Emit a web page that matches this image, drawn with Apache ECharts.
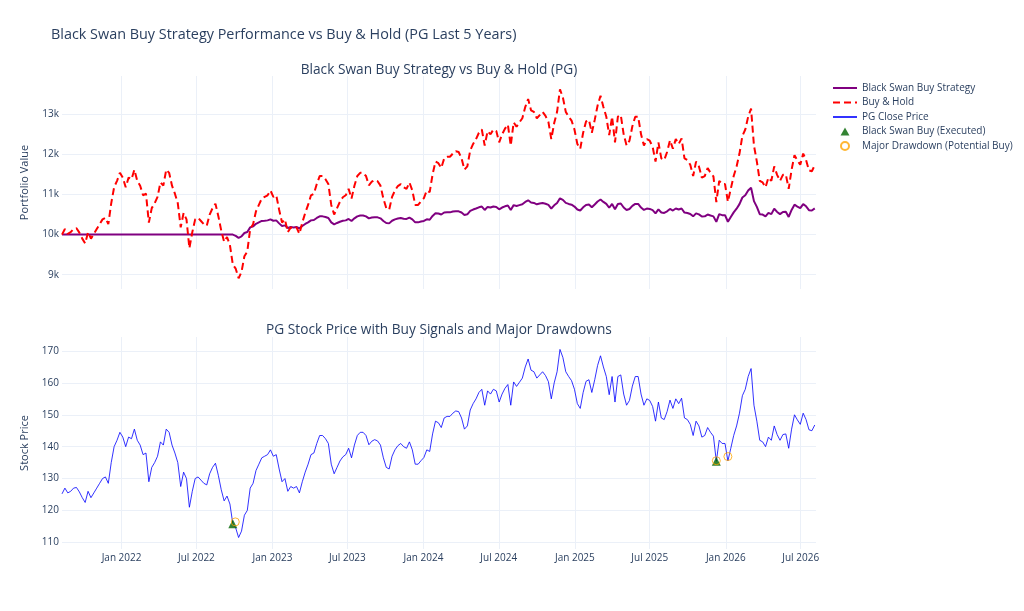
<!DOCTYPE html>
<html>
<head>
<meta charset="utf-8">
<script src="https://cdn.jsdelivr.net/npm/echarts@6/dist/echarts.min.js"></script>
<style>
  html, body { margin: 0; padding: 0; background: #ffffff; }
  #chart { width: 1024px; height: 611px; }
</style>
</head>
<body>
<div id="chart"></div>
<script>
// weekly closes, first sample on startDate
const startDate = "2021-08-10";
const endDate = "2026-08-07";

const closePrice = [
  125.2, 127, 125.5, 126, 127, 127.2, 125.8, 124, 122.5, 126,
  124, 125.5, 127, 128.5, 130, 130.5, 128.5, 135, 140, 142,
  144.5, 143, 140, 143, 142.5, 145.5, 142, 140.5, 137.5, 138,
  129, 133.5, 135, 137, 141.5, 140.5, 145.5, 144.5, 140.5, 138,
  135, 127.5, 132, 130, 121, 126, 130, 130.5, 129.5, 128.5,
  128, 131.5, 133.5, 134.8, 131, 126.5, 123, 124.5, 122, 115.8,
  114.5, 111.5, 113.5, 118.5, 120, 127, 128.5, 132.5, 134.5, 136.5,
  137, 137.5, 139, 137, 137.5, 133, 129, 130, 126, 127.5,
  127, 127.5, 125.5, 129, 132, 134.5, 137.5, 138, 141, 143.5,
  143.5, 142.5, 141, 134.5, 131.5, 133.5, 135.5, 136.8, 137.5, 139.5,
  136.5, 140.5, 143.5, 144.5, 144.5, 143.5, 140.6, 141.7, 142.2, 141.8,
  140.5, 136.5, 133.5, 133, 137, 139, 140.3, 141, 140, 139.5,
  141.5, 139, 134.5, 134.5, 135.6, 136.6, 139, 138.5, 144, 148,
  147.5, 146, 149, 149.5, 149.5, 150.5, 151.2, 151, 149, 145.5,
  146.5, 151.5, 153.5, 155, 157, 158, 153, 157.5, 156.5, 158,
  157.5, 154, 156.5, 158.3, 159.5, 153, 160.3, 158.9, 160.2, 161.5,
  165, 167.5, 164, 163.5, 161.5, 162.5, 163.5, 162.3, 160.4, 155,
  160, 163.5, 170.5, 168, 163.5, 162, 160.7, 158, 153.5, 152,
  157, 160.5, 161, 157, 161, 165.5, 168.5, 165, 162, 156.3,
  162, 154, 162, 162.5, 156.5, 153, 154.5, 159, 162, 162,
  156.5, 153, 155, 154.5, 152.6, 148, 154, 149, 148.5, 151,
  154.6, 152, 155, 153.5, 155.2, 149, 148.5, 147, 143.5, 148,
  146.5, 143, 143.5, 146, 144.5, 143.3, 135.4, 142, 141, 141,
  135.5, 139.5, 143.5, 146.5, 150.5, 156, 158, 162, 164.5, 153,
  148, 142, 141.5, 140, 143, 142, 146.5, 143.8, 142, 143.8,
  144, 139.5, 145.5, 150, 148.4, 147, 150.5, 148.5, 145.3, 145,
  146.8
];

const buyHoldValue = [
  10000, 10140, 10020, 10060, 10140, 10160, 10050, 9900, 9780, 10060,
  9900, 10020, 10140, 10260, 10380, 10420, 10260, 10780, 11180, 11340,
  11540, 11420, 11180, 11420, 11380, 11620, 11340, 11220, 10980, 11020,
  10300, 10660, 10780, 10940, 11300, 11220, 11620, 11540, 11220, 11020,
  10780, 10180, 10540, 10380, 9660, 10060, 10380, 10420, 10340, 10260,
  10220, 10500, 10660, 10770, 10460, 10100, 9820, 9940, 9740, 9250,
  9150, 8910, 9070, 9460, 9580, 10140, 10260, 10580, 10740, 10900,
  10940, 10980, 11100, 10940, 10980, 10620, 10300, 10380, 10060, 10180,
  10140, 10180, 10020, 10300, 10540, 10740, 10980, 11020, 11260, 11460,
  11460, 11380, 11260, 10740, 10500, 10660, 10820, 10930, 10980, 11140,
  10900, 11220, 11460, 11540, 11540, 11460, 11230, 11320, 11360, 11330,
  11220, 10900, 10660, 10620, 10940, 11100, 11210, 11260, 11180, 11140,
  11300, 11100, 10740, 10740, 10830, 10910, 11100, 11060, 11500, 11820,
  11780, 11660, 11900, 11940, 11940, 12020, 12080, 12060, 11900, 11620,
  11700, 12100, 12260, 12380, 12540, 12620, 12220, 12580, 12500, 12620,
  12580, 12300, 12500, 12640, 12740, 12220, 12800, 12690, 12800, 12900,
  13180, 13380, 13100, 13060, 12900, 12980, 13060, 12960, 12810, 12380,
  12780, 13060, 13620, 13420, 13060, 12940, 12840, 12620, 12260, 12140,
  12540, 12820, 12860, 12540, 12860, 13220, 13460, 13180, 12940, 12480,
  12940, 12300, 12940, 12980, 12500, 12220, 12340, 12700, 12940, 12940,
  12500, 12220, 12380, 12340, 12190, 11820, 12300, 11900, 11860, 12060,
  12350, 12140, 12380, 12260, 12400, 11900, 11860, 11740, 11460, 11820,
  11700, 11420, 11460, 11660, 11540, 11450, 10810, 11340, 11260, 11260,
  10820, 11140, 11460, 11700, 12020, 12460, 12620, 12940, 13140, 12220,
  11820, 11340, 11300, 11180, 11420, 11340, 11700, 11490, 11340, 11490,
  11500, 11140, 11620, 11980, 11850, 11740, 12020, 11860, 11600, 11580,
  11730
];

const strategyValue = [
  10000, 10000, 10000, 10000, 10000, 10000, 10000, 10000, 10000, 10000,
  10000, 10000, 10000, 10000, 10000, 10000, 10000, 10000, 10000, 10000,
  10000, 10000, 10000, 10000, 10000, 10000, 10000, 10000, 10000, 10000,
  10000, 10000, 10000, 10000, 10000, 10000, 10000, 10000, 10000, 10000,
  10000, 10000, 10000, 10000, 10000, 10000, 10000, 10000, 10000, 10000,
  10000, 10000, 10000, 10000, 10000, 10000, 10000, 10000, 10000, 10000,
  9970, 9920, 9955, 10040, 10065, 10180, 10205, 10270, 10305, 10340,
  10345, 10355, 10380, 10345, 10355, 10280, 10215, 10230, 10165, 10190,
  10180, 10190, 10155, 10215, 10265, 10305, 10355, 10365, 10415, 10455,
  10455, 10440, 10415, 10305, 10255, 10290, 10320, 10345, 10355, 10390,
  10340, 10405, 10455, 10475, 10475, 10455, 10405, 10425, 10435, 10430,
  10405, 10340, 10290, 10280, 10345, 10380, 10400, 10415, 10395, 10390,
  10425, 10380, 10305, 10305, 10325, 10340, 10380, 10370, 10465, 10530,
  10525, 10500, 10550, 10555, 10555, 10575, 10585, 10580, 10550, 10490,
  10505, 10590, 10625, 10650, 10680, 10700, 10615, 10690, 10675, 10700,
  10690, 10630, 10675, 10705, 10725, 10615, 10735, 10715, 10735, 10755,
  10815, 10855, 10800, 10790, 10755, 10775, 10790, 10770, 10740, 10650,
  10730, 10790, 10905, 10865, 10790, 10765, 10745, 10700, 10625, 10600,
  10680, 10740, 10750, 10680, 10750, 10825, 10875, 10815, 10765, 10670,
  10765, 10630, 10765, 10775, 10675, 10615, 10640, 10715, 10765, 10765,
  10675, 10615, 10650, 10640, 10610, 10530, 10630, 10550, 10540, 10580,
  10640, 10600, 10650, 10625, 10650, 10550, 10540, 10515, 10455, 10530,
  10505, 10450, 10455, 10500, 10475, 10455, 10320, 10510, 10485, 10485,
  10320, 10440, 10555, 10645, 10760, 10925, 10980, 11100, 11170, 10835,
  10690, 10510, 10500, 10455, 10540, 10510, 10645, 10565, 10510, 10565,
  10570, 10440, 10615, 10745, 10700, 10660, 10760, 10705, 10610, 10600,
  10655
];

const buyDates = ["2022-09-27", "2025-12-09"];
const buyPrices = [115.8, 135.4];
const drawdownDates = ["2022-10-03", "2025-12-09", "2026-01-06"];
const drawdownPrices = [116.4, 135.6, 136.9];

const xTickDates = [
  "2022-01-01", "2022-07-01", "2023-01-01", "2023-07-01", "2024-01-01",
  "2024-07-01", "2025-01-01", "2025-07-01", "2026-01-01", "2026-07-01"
];
const valueTicks = [9000, 10000, 11000, 12000, 13000];
const priceTicks = [110, 120, 130, 140, 150, 160, 170];

const MONTHS = ["Jan", "Feb", "Mar", "Apr", "May", "Jun", "Jul", "Aug", "Sep", "Oct", "Nov", "Dec"];
const DAY = 86400000;
const FONT = "'Open Sans', Verdana, Arial, sans-serif";
const TEXT = "#2a3f5f";
const GRID = "#ebf0f8";

const t0 = Date.parse(startDate);
const weekDates = closePrice.map((_, i) => t0 + i * 7 * DAY);
const toPairs = vals => vals.map((v, i) => [weekDates[i], v]);
const zipDates = (dates, vals) => dates.map((d, i) => [Date.parse(d), vals[i]]);
const xTicks = xTickDates.map(d => Date.parse(d));

const chart = echarts.init(document.getElementById("chart"));

// dates are kept as UTC timestamps on a value axis so the custom ticks work
const xAxisBase = (gridIndex, showLabels) => ({
  type: "value",
  gridIndex,
  min: t0,
  max: Date.parse(endDate),
  axisLine: { show: false },
  axisTick: { show: false, customValues: xTicks },
  splitLine: { show: true, lineStyle: { color: GRID, width: 1 } },
  axisLabel: {
    show: showLabels,
    customValues: xTicks,
    color: TEXT,
    fontFamily: FONT,
    fontSize: 10,
    margin: 4,
    formatter: v => {
      const d = new Date(v);
      return MONTHS[d.getUTCMonth()] + " " + d.getUTCFullYear();
    }
  }
});

const yAxisBase = (gridIndex, name, min, max, ticks, fmt) => ({
  type: "value",
  gridIndex,
  min,
  max,
  name,
  nameLocation: "middle",
  nameGap: 32,
  nameTextStyle: { color: TEXT, fontFamily: FONT, fontSize: 11 },
  axisLine: { show: false },
  axisTick: { show: false, customValues: ticks },
  splitLine: { show: true, lineStyle: { color: GRID, width: 1 } },
  axisLabel: {
    customValues: ticks,
    color: TEXT,
    fontFamily: FONT,
    fontSize: 10,
    margin: 3,
    formatter: fmt
  }
});

// no marker dot on the line entries, like the original legend
const hiddenDot = { opacity: 0 };

chart.setOption({
  backgroundColor: "#ffffff",
  animation: false,
  title: [
    {
      text: "Black Swan Buy Strategy Performance vs Buy & Hold (PG Last 5 Years)",
      left: 46, top: 23,
      textStyle: { color: TEXT, fontFamily: FONT, fontSize: 14.4, fontWeight: "normal" }
    },
    {
      text: "Black Swan Buy Strategy vs Buy & Hold (PG)",
      left: 434, top: 58, textAlign: "center",
      textStyle: { color: TEXT, fontFamily: FONT, fontSize: 13.7, fontWeight: "normal" }
    },
    {
      text: "PG Stock Price with Buy Signals and Major Drawdowns",
      left: 434, top: 318, textAlign: "center",
      textStyle: { color: TEXT, fontFamily: FONT, fontSize: 13.7, fontWeight: "normal" }
    }
  ],
  legend: {
    orient: "vertical",
    left: 827,
    top: 78,
    itemWidth: 24,
    itemHeight: 8,
    itemGap: 4.5,
    symbolKeepAspect: true,
    textStyle: { color: TEXT, fontFamily: FONT, fontSize: 10 },
    data: [
      { name: "Black Swan Buy Strategy", itemStyle: hiddenDot },
      { name: "Buy & Hold", itemStyle: hiddenDot },
      { name: "PG Close Price", itemStyle: hiddenDot },
      { name: "Black Swan Buy (Executed)", icon: "path://M5,0L10,9L0,9Z" },
      { name: "Major Drawdown (Potential Buy)" }
    ]
  },
  grid: [
    { left: 62, top: 76, width: 754, height: 213 },
    { left: 62, top: 337, width: 754, height: 212 }
  ],
  xAxis: [xAxisBase(0, false), xAxisBase(1, true)],
  yAxis: [
    yAxisBase(0, "Portfolio Value", 8644, 13954, valueTicks, v => (v / 1000) + "k"),
    yAxisBase(1, "Stock Price", 107.9, 174.4, priceTicks, v => String(v))
  ],
  series: [
    {
      name: "Black Swan Buy Strategy",
      type: "line",
      xAxisIndex: 0, yAxisIndex: 0,
      symbol: "none",
      data: toPairs(strategyValue),
      itemStyle: { color: "#800080" },
      lineStyle: { color: "#800080", width: 2 }
    },
    {
      name: "Buy & Hold",
      type: "line",
      xAxisIndex: 0, yAxisIndex: 0,
      symbol: "none",
      data: toPairs(buyHoldValue),
      itemStyle: { color: "#ff0000" },
      lineStyle: { color: "#ff0000", width: 2, type: [7, 4] }
    },
    {
      name: "PG Close Price",
      type: "line",
      xAxisIndex: 1, yAxisIndex: 1,
      symbol: "none",
      data: toPairs(closePrice),
      itemStyle: { color: "#0000ff" },
      lineStyle: { color: "#0000ff", width: 1, opacity: 0.8 }
    },
    {
      name: "Black Swan Buy (Executed)",
      type: "scatter",
      xAxisIndex: 1, yAxisIndex: 1,
      symbol: "triangle",
      symbolSize: 9,
      data: zipDates(buyDates, buyPrices),
      itemStyle: { color: "#006400" },
      z: 3
    },
    {
      name: "Major Drawdown (Potential Buy)",
      type: "scatter",
      xAxisIndex: 1, yAxisIndex: 1,
      symbol: "circle",
      symbolSize: 8,
      data: zipDates(drawdownDates, drawdownPrices),
      itemStyle: { color: "rgba(255,255,255,0)", borderColor: "#ffa500", borderWidth: 1 },
      z: 4
    }
  ]
});
</script>
</body>
</html>
